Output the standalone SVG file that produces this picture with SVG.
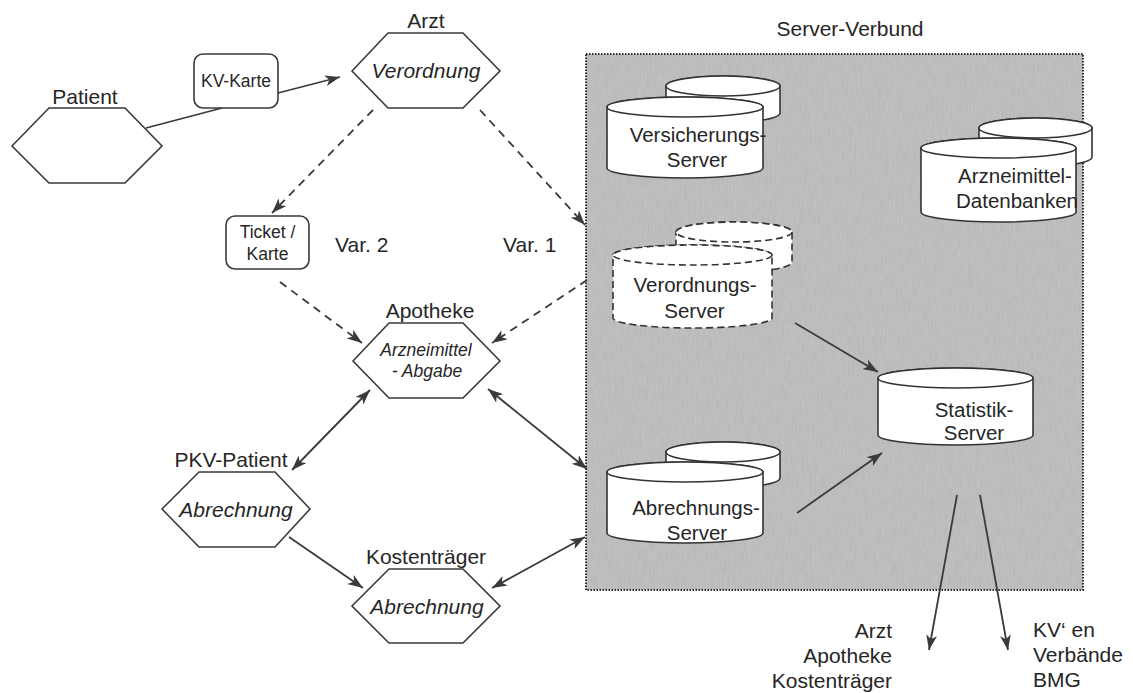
<svg xmlns="http://www.w3.org/2000/svg" width="1133" height="693" viewBox="0 0 1133 693">
  <style>
    text { font-family: "Liberation Sans", Arial, sans-serif; fill: #262626; }
    .lbl { font-size: 21px; text-anchor: middle; }
    .it { font-style: italic; }
    .srv { font-size: 20.5px; text-anchor: middle; }
    .small { font-size: 17.5px; text-anchor: middle; }
    .hex { fill: #fff; stroke: #3a3a3a; stroke-width: 1.6; }
    .card { fill: #fff; stroke: #3a3a3a; stroke-width: 1.6; }
    .cyl { fill: #fff; stroke: #333; stroke-width: 1.6; }
    .dash { stroke-dasharray: 7 4; }
    .con { fill: none; stroke: #3a3a3a; stroke-width: 1.8; }
    .dcon { stroke-dasharray: 8 6; }
  </style>
  <defs>
    <marker id="arrow" viewBox="0 0 15 11" markerWidth="15" markerHeight="11" refX="15" refY="5.5" orient="auto-start-reverse" markerUnits="userSpaceOnUse">
      <path d="M0,0 L15,5.5 L0,11 L4,5.5 Z" fill="#3a3a3a"/>
    </marker>
    <filter id="grain" x="0" y="0" width="100%" height="100%">
      <feTurbulence type="fractalNoise" baseFrequency="0.6 0.08" numOctaves="2" seed="4"/>
      <feColorMatrix type="matrix" values="0 0 0 0 0.35  0 0 0 0 0.35  0 0 0 0 0.35  0 0 0 0.9 -0.25"/>
    </filter>
  </defs>

  <!-- server cluster background -->
  <g id="server-verbund">
    <rect x="586" y="54" width="497" height="536" fill="#c0c0c0"/>
    <rect x="586" y="54" width="497" height="536" filter="url(#grain)" opacity="0.5"/>
    <rect x="586" y="54" width="497" height="536" fill="none" stroke="#2e2e2e" stroke-width="2" stroke-dasharray="1.5 1.5"/>
    <text class="lbl" x="850" y="36">Server-Verbund</text>
  </g>

  <!-- participants -->
  <g id="patient">
    <polygon class="hex" points="12,146 49,108 125,108 162,146 125,183 49,183"/>
    <text class="lbl" x="85" y="104">Patient</text>
  </g>
  <g id="kv-karte">
    <rect class="card" x="194" y="54" width="84" height="54" rx="9"/>
    <text class="small" x="236" y="87">KV-Karte</text>
  </g>
  <g id="arzt">
    <polygon class="hex" points="352,71 388,33 463,33 500,71 463,108 388,108"/>
    <text class="lbl" x="426" y="28">Arzt</text>
    <text class="lbl it" x="426" y="78">Verordnung</text>
  </g>
  <g id="ticket">
    <rect class="card" x="226" y="216" width="83" height="53" rx="9"/>
    <text class="small" x="267.5" y="238">Ticket /</text>
    <text class="small" x="267.5" y="260">Karte</text>
  </g>
  <g id="varianten">
    <text class="lbl" x="335" y="252" style="text-anchor:start">Var. 2</text>
    <text class="lbl" x="503" y="252" style="text-anchor:start">Var. 1</text>
  </g>
  <g id="apotheke">
    <polygon class="hex" points="353,361 389,323 463,323 500,361 463,398 389,398"/>
    <text class="lbl" x="430" y="318">Apotheke</text>
    <text class="small it" x="426" y="356">Arzneimittel</text>
    <text class="small it" x="427" y="377">- Abgabe</text>
  </g>
  <g id="pkv-patient">
    <polygon class="hex" points="162,509 199,472 275,472 310,509 275,547 199,547"/>
    <text class="lbl" x="231" y="467">PKV-Patient</text>
    <text class="lbl it" x="236" y="517">Abrechnung</text>
  </g>
  <g id="kostentraeger">
    <polygon class="hex" points="352,606 389,569 463,569 500,606 463,643 389,643"/>
    <text class="lbl" x="426" y="564">Kostenträger</text>
    <text class="lbl it" x="427" y="614">Abrechnung</text>
  </g>

  <!-- servers -->
  <g id="versicherungs-server">
    <path class="cyl" d="M666,86 A57,10 0 0 1 780,86 V113 A57,10 0 0 1 666,113 Z"/>
    <ellipse class="cyl" cx="723" cy="86" rx="57" ry="10"/>
    <path class="cyl" d="M607,107 A78,10 0 0 1 763,107 V168 A78,10 0 0 1 607,168 Z"/>
    <ellipse class="cyl" cx="685" cy="107" rx="78" ry="10"/>
    <text class="srv" x="698" y="142">Versicherungs-</text>
    <text class="srv" x="697" y="167">Server</text>
  </g>
  <g id="arzneimittel-datenbanken">
    <path class="cyl" d="M979,128 A56.5,10 0 0 1 1092,128 V157 A56.5,10 0 0 1 979,157 Z"/>
    <ellipse class="cyl" cx="1035.5" cy="128" rx="56.5" ry="10"/>
    <path class="cyl" d="M921,148 A77.5,10 0 0 1 1076,148 V212 A77.5,10 0 0 1 921,212 Z"/>
    <ellipse class="cyl" cx="998.5" cy="148" rx="77.5" ry="10"/>
    <text class="srv" x="1015" y="183">Arzneimittel-</text>
    <text class="srv" x="1017" y="208">Datenbanken</text>
  </g>
  <g id="verordnungs-server">
    <path class="cyl dash" d="M676,232 A58,10 0 0 1 792,232 V262 A58,10 0 0 1 676,262 Z"/>
    <ellipse class="cyl dash" cx="734" cy="232" rx="58" ry="10"/>
    <path class="cyl dash" d="M613,255 A79.5,10 0 0 1 772,255 V318 A79.5,10 0 0 1 613,318 Z"/>
    <ellipse class="cyl dash" cx="692.5" cy="255" rx="79.5" ry="10"/>
    <text class="srv" x="695" y="292">Verordnungs-</text>
    <text class="srv" x="694.5" y="318">Server</text>
  </g>
  <g id="statistik-server">
    <path class="cyl" d="M878,378 A77.5,10 0 0 1 1033,378 V435 A77.5,10 0 0 1 878,435 Z"/>
    <ellipse class="cyl" cx="955.5" cy="378" rx="77.5" ry="10"/>
    <text class="srv" x="974" y="417">Statistik-</text>
    <text class="srv" x="974" y="440">Server</text>
  </g>
  <g id="abrechnungs-server">
    <path class="cyl" d="M666,452 A57,10 0 0 1 780,452 V478 A57,10 0 0 1 666,478 Z"/>
    <ellipse class="cyl" cx="723" cy="452" rx="57" ry="10"/>
    <path class="cyl" d="M607,472 A78,10 0 0 1 763,472 V533 A78,10 0 0 1 607,533 Z"/>
    <ellipse class="cyl" cx="685" cy="472" rx="78" ry="10"/>
    <text class="srv" x="696" y="515">Abrechnungs-</text>
    <text class="srv" x="697" y="540">Server</text>
  </g>

  <!-- recipients of statistics -->
  <g id="empfaenger-links">
    <text class="lbl" x="892" y="638" style="text-anchor:end">Arzt</text>
    <text class="lbl" x="892" y="663" style="text-anchor:end">Apotheke</text>
    <text class="lbl" x="892" y="688" style="text-anchor:end">Kostenträger</text>
  </g>
  <g id="empfaenger-rechts">
    <text class="lbl" x="1033" y="637" style="text-anchor:start">KV‘ en</text>
    <text class="lbl" x="1033" y="662" style="text-anchor:start">Verbände</text>
    <text class="lbl" x="1033" y="687" style="text-anchor:start">BMG</text>
  </g>

  <!-- connectors -->
  <g id="connectors">
    <line class="con" x1="146" y1="128" x2="222" y2="108"/>
    <line class="con" x1="278" y1="93" x2="340" y2="77" marker-end="url(#arrow)"/>
    <line class="con dcon" x1="373" y1="110" x2="272" y2="213" marker-end="url(#arrow)"/>
    <line class="con dcon" x1="480" y1="110" x2="585" y2="225" marker-end="url(#arrow)"/>
    <line class="con dcon" x1="280" y1="282" x2="362" y2="343" marker-end="url(#arrow)"/>
    <line class="con dcon" x1="587" y1="280" x2="492" y2="343" marker-end="url(#arrow)"/>
    <line class="con" x1="370" y1="390" x2="292" y2="470" marker-start="url(#arrow)" marker-end="url(#arrow)"/>
    <line class="con" x1="488" y1="389" x2="587" y2="469" marker-start="url(#arrow)" marker-end="url(#arrow)"/>
    <line class="con" x1="289" y1="537" x2="363" y2="588" marker-end="url(#arrow)"/>
    <line class="con" x1="492" y1="588" x2="585" y2="537" marker-start="url(#arrow)" marker-end="url(#arrow)"/>
    <line class="con" x1="795" y1="323" x2="878" y2="372" marker-end="url(#arrow)"/>
    <line class="con" x1="797" y1="513" x2="882" y2="453" marker-end="url(#arrow)"/>
    <line class="con" x1="957" y1="495" x2="929" y2="650" marker-end="url(#arrow)"/>
    <line class="con" x1="980" y1="495" x2="1008" y2="650" marker-end="url(#arrow)"/>
  </g>
</svg>
